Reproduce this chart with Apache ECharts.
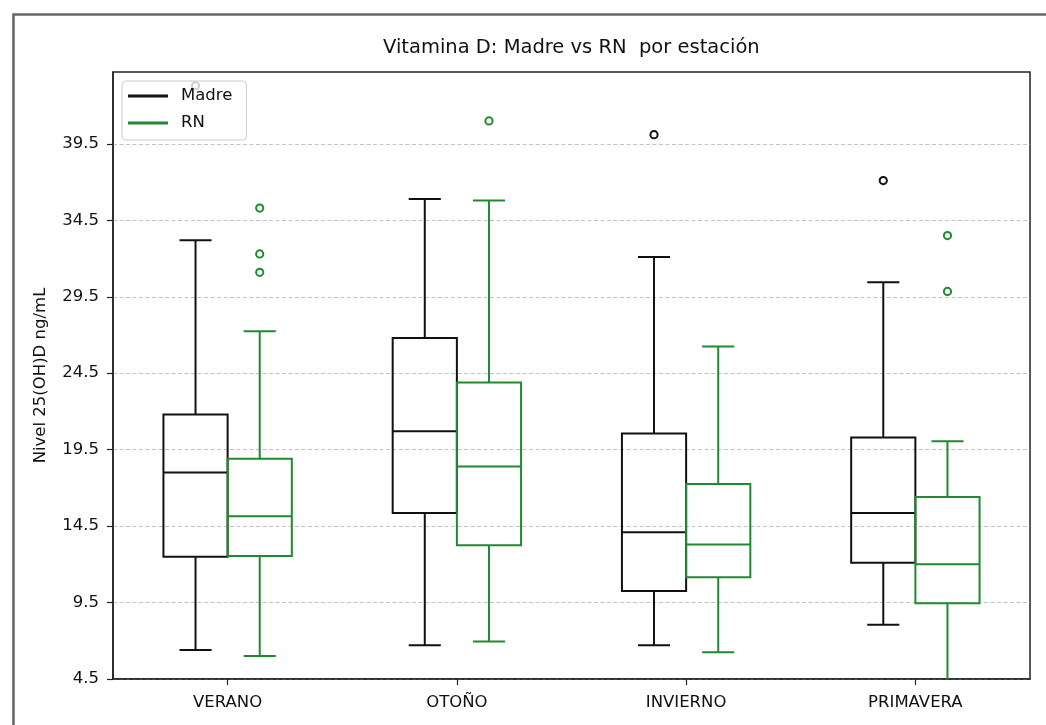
<!DOCTYPE html>
<html>
<head>
<meta charset="utf-8">
<title>Vitamina D: Madre vs RN por estación</title>
<script src="https://cdn.jsdelivr.net/npm/echarts@6/dist/echarts.min.js"></script>
<style>
  html, body { margin: 0; padding: 0; background: #fff; }
  #chart { width: 1046px; height: 725px; }
</style>
</head>
<body>
<div id="chart"></div>
<script>
// Seasons on the x axis
const categories = ['VERANO', 'OTOÑO', 'INVIERNO', 'PRIMAVERA'];

// Box statistics per season: [lower whisker, Q1, median, Q3, upper whisker]
const madreStats = [
  [6.4, 12.5, 18.0, 21.8, 33.2],
  [6.7, 15.35, 20.7, 26.8, 35.9],
  [6.7, 10.25, 14.1, 20.55, 32.1],
  [8.05, 12.1, 15.35, 20.3, 30.45]
];
const rnStats = [
  [6.0, 12.55, 15.15, 18.9, 27.25],
  [6.95, 13.25, 18.4, 23.9, 35.8],
  [6.25, 11.15, 13.3, 17.25, 26.25],
  [4.0, 9.45, 12.0, 16.4, 20.05]
];

// Outliers: [season index, value]
const madreOutliers = [[0, 43.3], [2, 40.1], [3, 37.1]];
const rnOutliers = [[0, 35.3], [0, 32.3], [0, 31.1], [1, 41.0], [3, 33.5], [3, 29.85]];

// Y axis ticks
const yTicks = [4.5, 9.5, 14.5, 19.5, 24.5, 29.5, 34.5, 39.5];
const yMin = 4.5;
const yMax = 44.2;

const BLACK = '#111111';
const GREEN = '#1f8a30';
const FONT = 'DejaVu Sans';
const BOX_FRAC = 0.28; // box width as a share of the category band

function boxRenderer(side, color) {
  return function (params, api) {
    const cat = api.value(0);
    const band = api.size([1, 0])[0];
    const w = band * BOX_FRAC;
    const cx = api.coord([cat, api.value(3)])[0] + side * w / 2;
    const y = v => api.coord([cat, v])[1];
    const lo = y(api.value(1)), q1 = y(api.value(2)), md = y(api.value(3)),
          q3 = y(api.value(4)), hi = y(api.value(5));
    const style = { stroke: color, lineWidth: 2, fill: null };
    const cap = w / 4;
    return {
      type: 'group',
      children: [
        { type: 'line', shape: { x1: cx, y1: q1, x2: cx, y2: lo }, style },
        { type: 'line', shape: { x1: cx, y1: q3, x2: cx, y2: hi }, style },
        { type: 'line', shape: { x1: cx - cap, y1: lo, x2: cx + cap, y2: lo }, style },
        { type: 'line', shape: { x1: cx - cap, y1: hi, x2: cx + cap, y2: hi }, style },
        { type: 'rect', shape: { x: cx - w / 2, y: q3, width: w, height: q1 - q3 }, style },
        { type: 'line', shape: { x1: cx - w / 2, y1: md, x2: cx + w / 2, y2: md }, style }
      ]
    };
  };
}

function outlierRenderer(side, color) {
  return function (params, api) {
    const cat = api.value(0);
    const band = api.size([1, 0])[0];
    const w = band * BOX_FRAC;
    const p = api.coord([cat, api.value(1)]);
    return {
      type: 'circle',
      shape: { cx: p[0] + side * w / 2, cy: p[1], r: 3.6 },
      style: { stroke: color, lineWidth: 2, fill: null }
    };
  };
}

const boxData = stats => stats.map((s, i) => [i].concat(s));

const chart = echarts.init(document.getElementById('chart'), null, { renderer: 'canvas' });

chart.setOption({
  animation: false,
  backgroundColor: '#ffffff',
  textStyle: { fontFamily: FONT },
  title: {
    text: 'Vitamina D: Madre vs RN  por estación',
    left: 383,
    top: 38,
    padding: 0,
    textStyle: { fontFamily: FONT, fontSize: 19.5, fontWeight: 'normal', color: '#111' }
  },
  graphic: [{
    type: 'rect',
    left: 11, top: 12,
    shape: { width: 1100, height: 800 },
    style: { fill: null, stroke: '#666', lineWidth: 2.5 },
    silent: true
  }],
  legend: {
    data: [
      { name: 'Madre', icon: 'rect' },
      { name: 'RN', icon: 'rect' }
    ],
    orient: 'vertical',
    left: 122,
    top: 81,
    itemWidth: 40,
    itemHeight: 3,
    itemGap: 9,
    padding: [6, 14, 8, 6],
    backgroundColor: 'rgba(255,255,255,0.8)',
    borderColor: '#cccccc',
    borderWidth: 1,
    borderRadius: 4,
    selectedMode: false,
    textStyle: { fontFamily: FONT, fontSize: 16.5, color: '#111', lineHeight: 18, padding: [0, 0, 0, 8] }
  },
  grid: {
    left: 113, right: 16, top: 72, bottom: 46,
    show: true,
    borderColor: '#222',
    borderWidth: 1.5,
    backgroundColor: 'transparent'
  },
  xAxis: {
    type: 'category',
    data: categories,
    boundaryGap: true,
    axisLine: { show: true, lineStyle: { color: '#222', width: 1.5 } },
    axisTick: { show: true, alignWithLabel: true, length: 6, lineStyle: { color: '#222', width: 1.2 } },
    axisLabel: { fontFamily: FONT, fontSize: 16.5, color: '#111', margin: 15 },
    splitLine: { show: false }
  },
  yAxis: {
    type: 'value',
    min: yMin,
    max: yMax,
    interval: 5,
    name: 'Nivel 25(OH)D ng/mL',
    nameLocation: 'middle',
    nameRotate: 90,
    nameGap: 64,
    nameTextStyle: { fontFamily: FONT, fontSize: 16.5, color: '#111' },
    axisLine: { show: true, lineStyle: { color: '#222', width: 1.5 } },
    axisTick: { show: true, length: 6, customValues: yTicks, lineStyle: { color: '#222', width: 1.2 } },
    axisLabel: {
      fontFamily: FONT, fontSize: 16.5, color: '#111', margin: 14,
      customValues: yTicks,
      formatter: v => Number(v).toFixed(1)
    },
    splitLine: { show: true, lineStyle: { color: '#c4c4c4', width: 1, type: [4, 2.5] } }
  },
  series: [
    {
      name: 'Madre', type: 'custom', clip: true, z: 3,
      itemStyle: { color: BLACK },
      renderItem: boxRenderer(-1, BLACK),
      encode: { x: 0, y: [1, 2, 3, 4, 5] },
      data: boxData(madreStats)
    },
    {
      name: 'RN', type: 'custom', clip: true, z: 4,
      itemStyle: { color: GREEN },
      renderItem: boxRenderer(1, GREEN),
      encode: { x: 0, y: [1, 2, 3, 4, 5] },
      data: boxData(rnStats)
    },
    {
      name: 'Madre', type: 'custom', clip: true, z: 3,
      itemStyle: { color: BLACK },
      renderItem: outlierRenderer(-1, BLACK),
      encode: { x: 0, y: 1 },
      data: madreOutliers
    },
    {
      name: 'RN', type: 'custom', clip: true, z: 4,
      itemStyle: { color: GREEN },
      renderItem: outlierRenderer(1, GREEN),
      encode: { x: 0, y: 1 },
      data: rnOutliers
    }
  ]
});
</script>
</body>
</html>
